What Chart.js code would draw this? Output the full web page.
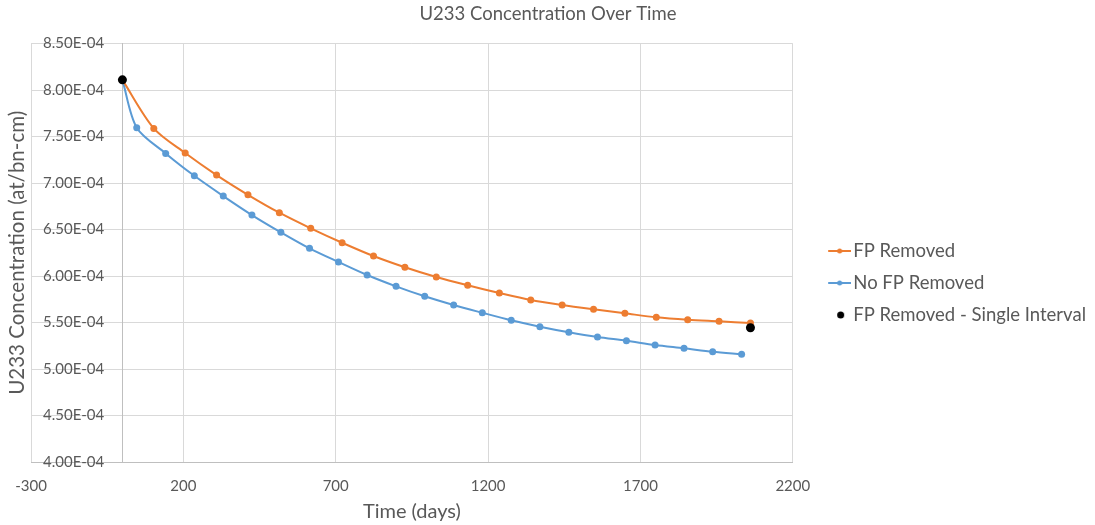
<!DOCTYPE html>
<html>
<head>
<meta charset="utf-8">
<title>U233 Concentration Over Time</title>
<script src="https://cdn.jsdelivr.net/npm/chart.js@4.4.1/dist/chart.umd.min.js"></script>
<style>
  html, body { margin: 0; padding: 0; background: #fff; }
</style>
</head>
<body>
<canvas id="chart" width="1095" height="525"></canvas>
<script>
// Burnup steps with fission products removed (days, at/bn-cm)
const fpRemovedDays = [0, 103, 206, 309, 412, 515, 618, 721, 824, 927, 1030,
  1133, 1237, 1340, 1443, 1546, 1649, 1752, 1855, 1958, 2061];
const fpRemovedConc = [8.11e-4, 7.588e-4, 7.323e-4, 7.086e-4, 6.874e-4, 6.681e-4,
  6.513e-4, 6.358e-4, 6.215e-4, 6.094e-4, 5.989e-4, 5.900e-4, 5.817e-4, 5.742e-4,
  5.688e-4, 5.642e-4, 5.599e-4, 5.556e-4, 5.530e-4, 5.513e-4, 5.495e-4];

// Burnup steps without removal
const noFpDays = [0, 47, 142, 236, 331, 425, 520, 614, 709, 803, 898, 992,
  1087, 1181, 1276, 1370, 1465, 1559, 1654, 1748, 1843, 1937, 2032];
const noFpConc = [8.11e-4, 7.595e-4, 7.319e-4, 7.078e-4, 6.860e-4, 6.656e-4,
  6.470e-4, 6.298e-4, 6.151e-4, 6.011e-4, 5.889e-4, 5.782e-4, 5.688e-4, 5.605e-4,
  5.524e-4, 5.455e-4, 5.395e-4, 5.344e-4, 5.304e-4, 5.258e-4, 5.223e-4, 5.186e-4,
  5.158e-4];

// One-step run: start and end only
const singleDays = [0, 2061];
const singleConc = [8.11e-4, 5.444e-4];

// Axis ranges
const xMin = -300, xMax = 2200, xStep = 500;
const yMin = 4.0e-4, yMax = 8.5e-4, yStep = 0.5e-4;

const ORANGE = '#ED7D31';
const BLUE = '#5B9BD5';
const TEXT = '#595959';
const GRID = '#D9D9D9';
const FONT = 'Lato, "Open Sans", sans-serif';

const toPoints = (xs, ys) => xs.map((x, i) => ({ x: x, y: ys[i] }));

// "8.50E-04" style labels
const sci = v => Number(v).toExponential(2).toUpperCase().replace(/E([+-])(\d)$/, 'E$10$2');

// line-with-marker swatches for the legend; the mark sits in the right part
// of the canvas so it ends just before the label text
function swatch(color, withLine, r) {
  const c = document.createElement('canvas');
  c.width = 52; c.height = 10;
  const g = c.getContext('2d');
  if (withLine) {
    g.strokeStyle = color;
    g.lineWidth = 2;
    g.beginPath(); g.moveTo(29, 5); g.lineTo(52, 5); g.stroke();
  }
  g.fillStyle = color;
  g.beginPath(); g.arc(withLine ? 40.5 : 41.5, 5, r, 0, Math.PI * 2); g.fill();
  return c;
}
const swatches = [swatch(ORANGE, true, 2.5), swatch(BLUE, true, 2.5), swatch('#000', false, 3.5)];

// push the legend block down a little from the vertical centre
const legendShift = {
  id: 'legendShift',
  afterLayout(chart) {
    if (chart.legend) {
      chart.legend.top += 21;
      chart.legend.bottom += 21;
    }
  }
};

new Chart(document.getElementById('chart'), {
  type: 'scatter',
  plugins: [legendShift],
  data: {
    datasets: [
      {
        label: 'FP Removed',
        data: toPoints(fpRemovedDays, fpRemovedConc),
        showLine: true,
        borderColor: ORANGE,
        backgroundColor: ORANGE,
        borderWidth: 2,
        pointRadius: 3.5,
        pointBorderWidth: 0,
        tension: 0.3
      },
      {
        label: 'No FP Removed',
        data: toPoints(noFpDays, noFpConc),
        showLine: true,
        borderColor: BLUE,
        backgroundColor: BLUE,
        borderWidth: 2,
        pointRadius: 3.5,
        pointBorderWidth: 0,
        tension: 0.3
      },
      {
        label: 'FP Removed - Single Interval',
        data: toPoints(singleDays, singleConc),
        showLine: false,
        borderColor: '#000',
        backgroundColor: '#000',
        pointRadius: 4.5,
        pointBorderWidth: 0,
        order: -1
      }
    ]
  },
  options: {
    responsive: false,
    animation: false,
    layout: { padding: { left: 0, right: -1, top: 0, bottom: 1 } },
    plugins: {
      tooltip: { enabled: false },
      title: {
        display: true,
        text: 'U233 Concentration Over Time',
        color: TEXT,
        font: { family: FONT, size: 18.5, weight: 'normal' },
        padding: { top: 3, bottom: 18.4 }
      },
      legend: {
        position: 'right',
        align: 'center',
        maxWidth: 400,
        labels: {
          color: TEXT,
          font: { family: FONT, size: 18.5 },
          usePointStyle: true,
          pointStyleWidth: 37.75,
          padding: 13.5,
          sort: (a, b) => a.datasetIndex - b.datasetIndex,
          generateLabels: chart => {
            const items = Chart.defaults.plugins.legend.labels.generateLabels(chart);
            items.forEach(it => { it.pointStyle = swatches[it.datasetIndex]; });
            return items;
          }
        }
      }
    },
    scales: {
      x: {
        type: 'linear',
        position: 'bottom',
        min: xMin,
        max: xMax,
        afterFit: s => { s.height = 62; },
        ticks: {
          stepSize: xStep,
          color: TEXT,
          font: { family: FONT, size: 15 },
          padding: 15,
          callback: v => String(v)
        },
        grid: { color: GRID, drawTicks: false },
        border: { color: '#BFBFBF' },
        title: {
          display: true,
          text: 'Time (days)',
          color: TEXT,
          font: { family: FONT, size: 20 },
          padding: { top: 0, bottom: 0 }
        }
      },
      // vertical axis line crossing at day 0, carries the horizontal gridlines
      y: {
        type: 'linear',
        position: { x: 0 },
        min: yMin,
        max: yMax,
        ticks: { stepSize: yStep, display: false },
        grid: { color: GRID, drawTicks: false },
        border: { color: '#BFBFBF' }
      },
      // labels and title for the vertical axis
      yLabels: {
        type: 'linear',
        axis: 'y',
        position: 'left',
        min: yMin,
        max: yMax,
        afterFit: s => { s.width = 31; },
        ticks: {
          stepSize: yStep,
          mirror: true,
          crossAlign: 'far',
          padding: 12,
          color: TEXT,
          font: { family: FONT, size: 15 },
          callback: v => sci(v)
        },
        grid: { display: false, drawTicks: false },
        border: { display: false },
        title: {
          display: true,
          text: 'U233 Concentration (at/bn-cm)',
          color: TEXT,
          font: { family: FONT, size: 20.5 },
          padding: { top: 5.2, bottom: 0 }
        }
      }
    }
  }
});
</script>
</body>
</html>
